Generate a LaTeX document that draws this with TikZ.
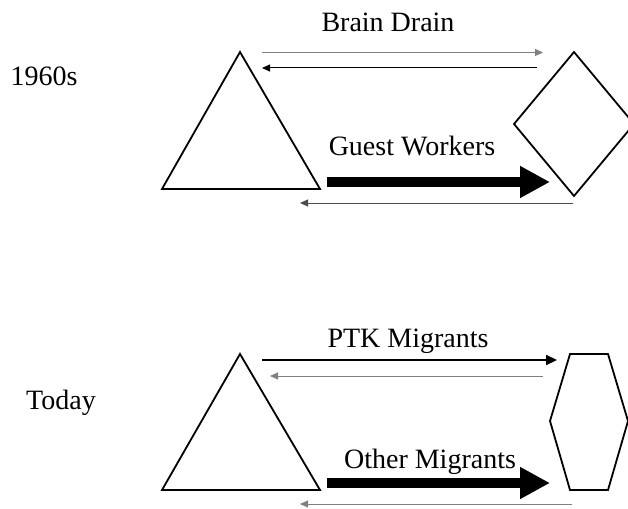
\documentclass[tikz,border=0pt]{standalone}
\usepackage{fontspec}
\setmainfont{Liberation Serif}
\usetikzlibrary{arrows.meta}
\definecolor{lgray}{gray}{0.5}
\definecolor{dgray}{gray}{0.3}

\begin{document}
\begin{tikzpicture}[x=1pt, y=-1pt,
    >={Triangle[length=8pt,width=7pt]},
    every node/.append style={font=\fontsize{28}{32}\selectfont, inner sep=0pt, anchor=base},
    land/.style={draw, line width=1.8pt, line join=miter},
    flow/.style={->, line width=1pt},
    bigflow/.style={line width=10pt, -{Triangle[length=30pt,width=30pt]}}]
   \useasboundingbox (0,0) rectangle (628,508);
   % 1960s
   \node (then)  at (44,86)   {1960s};
   \node (brain) at (388,32)  {Brain Drain};
   \node (guest) at (412,155) {Guest Workers};
   \draw [land] (240,52) -- (162,189) -- (320,189) -- cycle;
   \draw [land] (574,52) -- (634,124) -- (574,196) -- (514,124) -- cycle;
   \coordinate (bdA) at (262,52.5); \coordinate (bdB) at (543,52.5);
   \coordinate (bdC) at (537,68);   \coordinate (bdD) at (262,68);
   \coordinate (gwA) at (327,182);  \coordinate (gwB) at (550,182);
   \coordinate (gwC) at (573,203);  \coordinate (gwD) at (300,203);
   \draw [flow, lgray] (bdA) -- (bdB);
   \draw [flow] (bdC) -- (bdD);
   \draw [bigflow] (gwA) -- (gwB);
   \draw [flow, dgray] (gwC) -- (gwD);
   % today
   \node (now)   at (61,409)  {Today};
   \node (ptk)   at (408,347) {PTK Migrants};
   \node (other) at (430,468) {Other Migrants};
   \draw [land] (240,354) -- (162,490) -- (320,490) -- cycle;
   \draw [land] (570,354) -- (608,354) -- (628,421) -- (608,490) -- (570,490) -- (550,421) -- cycle;
   \coordinate (pmA) at (262,360);  \coordinate (pmB) at (557,360);
   \coordinate (pmC) at (543,376);  \coordinate (pmD) at (270,376);
   \coordinate (omA) at (327,483);  \coordinate (omB) at (550,483);
   \coordinate (omC) at (572,504);  \coordinate (omD) at (300,504);
   \draw [line width=2.2pt, -{Triangle[length=11pt,width=10pt]}] (pmA) -- (pmB);
   \draw [flow, lgray] (pmC) -- (pmD);
   \draw [bigflow] (omA) -- (omB);
   \draw [flow, lgray] (omC) -- (omD);
\end{tikzpicture}
\end{document}
